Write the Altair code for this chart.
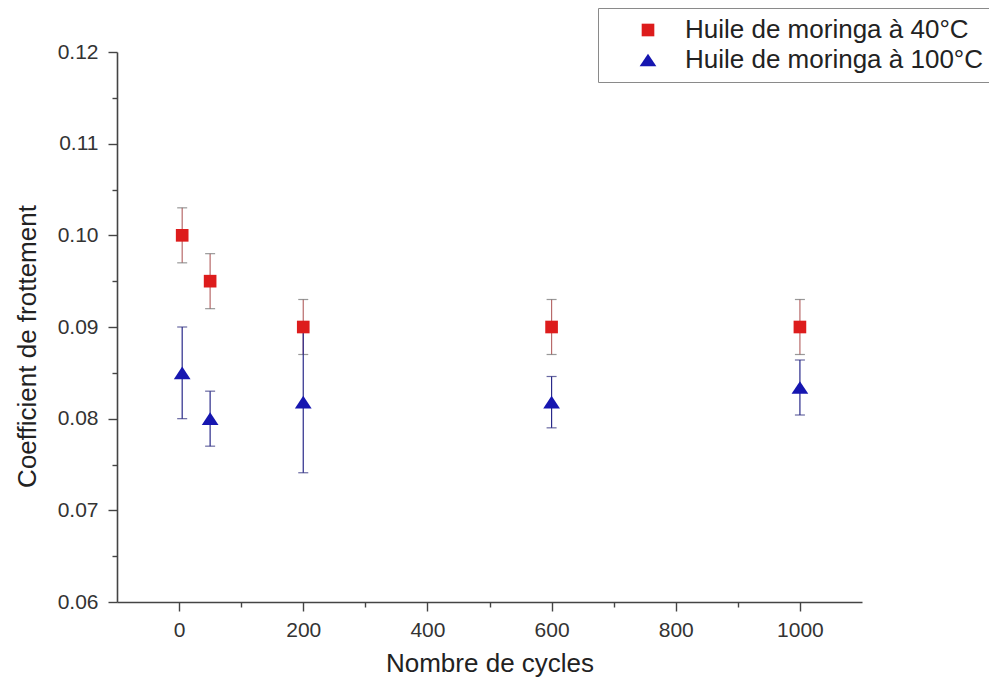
import altair as alt
import pandas as pd

# ---- data ----
cycles = [5, 50, 200, 600, 1000]
series_names = ["Huile de moringa à 40°C", "Huile de moringa à 100°C"]
mu_40 = [0.100, 0.095, 0.090, 0.090, 0.090]
err_40 = [0.003, 0.003, 0.003, 0.003, 0.003]
mu_100 = [0.085, 0.080, 0.0818, 0.0818, 0.0834]
err_100 = [0.005, 0.003, 0.0077, 0.0028, 0.003]

x_ticks = [0, 100, 200, 300, 400, 500, 600, 700, 800, 900, 1000]
y_ticks = [0.06, 0.065, 0.07, 0.075, 0.08, 0.085, 0.09, 0.095, 0.10, 0.105, 0.11, 0.115, 0.12]

colors = ["#dd1c1c", "#1616b0"]
bar_colors = ["#b86a6a", "#2a2a8a"]
cap_colors = ["#6e6e6e", "#2a2a7a"]

rows = []
for name, mus, errs in [(series_names[0], mu_40, err_40), (series_names[1], mu_100, err_100)]:
    for c, m, e in zip(cycles, mus, errs):
        rows.append({"cycles": c, "mu": m, "lo": m - e, "hi": m + e, "series": name})
df = pd.DataFrame(rows)

FONT = "Liberation Sans"

x_scale = alt.Scale(domain=[-100, 1100], nice=False, zero=False)
y_scale = alt.Scale(domain=[0.06, 0.12], nice=False, zero=False)

x_axis = alt.Axis(
    values=x_ticks,
    title="Nombre de cycles",
    format="d",
    labelExpr="datum.value % 200 == 0 ? datum.label : ''",
    tickSize={"condition": {"test": "datum.value % 200 != 0", "value": 5}, "value": 9},
    labelPadding=8,
    titlePadding=10,
    grid=False,
)
y_axis = alt.Axis(
    values=y_ticks,
    title="Coefficient de frottement",
    labelExpr="round(datum.value*1000) % 10 == 0 ? format(datum.value, '.2f') : ''",
    tickSize={"condition": {"test": "round(datum.value*1000) % 10 != 0", "value": 5}, "value": 9},
    labelPadding=10,
    titlePadding=17,
    titleY=294,
    grid=False,
)

base = alt.Chart(df)

layers = []
for i, name in enumerate(series_names):
    sub = base.transform_filter(alt.datum.series == name)
    layers.append(
        sub.mark_rule(strokeWidth=1.2).encode(
            x=alt.X("cycles:Q", scale=x_scale, axis=x_axis),
            y=alt.Y("lo:Q", scale=y_scale, axis=y_axis),
            y2="hi:Q",
            color=alt.value(bar_colors[i]),
        )
    )
    for f in ["lo", "hi"]:
        layers.append(
            sub.mark_tick(orient="horizontal", size=10, thickness=1.2).encode(
                x=alt.X("cycles:Q", scale=x_scale, axis=x_axis),
                y=alt.Y(f + ":Q", scale=y_scale, axis=y_axis),
                color=alt.value(cap_colors[i]),
            )
        )

tri = "M-1,0.76L0,-0.76L1,0.76Z"
points = base.mark_point(filled=True, opacity=1, size=170).encode(
    x=alt.X("cycles:Q", scale=x_scale, axis=x_axis),
    y=alt.Y("mu:Q", scale=y_scale, axis=y_axis),
    color=alt.Color(
        "series:N",
        scale=alt.Scale(domain=series_names, range=colors),
        legend=alt.Legend(
            title=None,
            orient="none",
            legendX=481,
            legendY=-44,
            labelFontSize=26,
            labelFont=FONT,
            labelColor="#222",
            labelLimit=600,
            symbolSize=100,
            symbolOffset=28,
            labelOffset=24,
            rowPadding=4,
            padding=9,
            strokeColor="#8a8a8a",
            fillColor="white",
            symbolStrokeWidth=0,
        ),
    ),
    shape=alt.Shape(
        "series:N",
        scale=alt.Scale(domain=series_names, range=["square", tri]),
        legend=alt.Legend(title=None, orient="none", legendX=481, legendY=-44),
    ),
    size=alt.Size(
        "series:N",
        scale=alt.Scale(domain=series_names, range=[160, 280]),
        legend=None,
    ),
)
layers.append(points)

chart = (
    alt.layer(*layers)
    .properties(
        width=745,
        height=550,
        autosize=alt.AutoSizeParams(type="none"),
        padding={"left": 109, "top": 44, "right": 127, "bottom": 77},
        background="white",
    )
    .configure_view(stroke=None)
    .configure_axis(
        domainColor="#444",
        domainWidth=1.6,
        tickColor="#444",
        tickWidth=1.4,
        labelFont=FONT,
        labelFontSize=21,
        labelColor="#333",
        titleFont=FONT,
        titleFontSize=26,
        titleFontWeight="normal",
        titleColor="#222",
    )
)

chart.save("out.html", embed_options={"renderer": "svg", "actions": False})
